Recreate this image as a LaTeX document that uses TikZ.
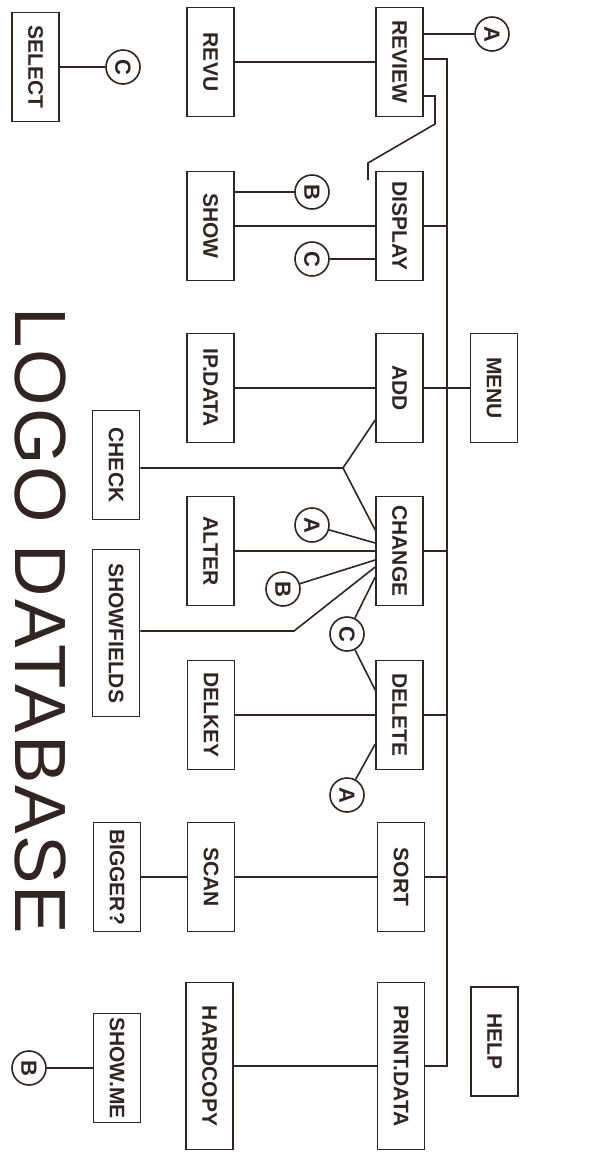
\documentclass[tikz,border=0pt]{standalone}
\usepackage{fontspec}
\setmainfont{Liberation Sans}
\definecolor{ink}{RGB}{50,36,36}
\newcommand{\sidetext}[1]{\rotatebox{-90}{#1}}

\begin{document}
\begin{tikzpicture}[x=1pt,y=-1pt,line width=1.6pt,color=ink,
    box/.style={draw, rectangle, fill=white, minimum width=47pt, minimum height=109pt, inner sep=0pt, font=\fontsize{21}{23}\selectfont\bfseries},
    tallbox/.style={box, minimum height=167pt},
    tag/.style={draw, circle, fill=white, minimum size=34pt, inner sep=0pt, font=\fontsize{22}{24}\selectfont\bfseries}]
    \fill[white] (0,0) rectangle (608,1152);
    \useasboundingbox (0,0) rectangle (608,1152);

    % Title
    \node[rotate=-90, inner sep=0pt, font=\fontsize{72.6}{80}\selectfont\addfontfeature{LetterSpace=2.5}] (title) at (40,621) {LOGO DATABASE};

    % Review / display
    \node[box] (select) at (35.5,67) {\sidetext{SELECT}};
    \node[tag] (selc) at (123,67) {\sidetext{C}};
    \node[box] (revu) at (210.5,62) {\sidetext{REVU}};
    \node[box] (review) at (399.5,62) {\sidetext{REVIEW}};
    \node[tag] (reva) at (492,34) {\sidetext{A}};
    \node[box] (show) at (210.5,226) {\sidetext{SHOW}};
    \node[box] (display) at (399.5,226) {\sidetext{DISPLAY}};
    \node[tag] (showb) at (312,192) {\sidetext{B}};
    \node[tag] (showc) at (312,259) {\sidetext{C}};

    % Add / change
    \node[box] (ipdata) at (210.5,388) {\sidetext{IP.DATA}};
    \node[box] (add) at (399.5,388) {\sidetext{ADD}};
    \node[box] (menu) at (494,388) {\sidetext{MENU}};
    \node[box] (check) at (116,465) {\sidetext{CHECK}};
    \node[box] (alter) at (210.5,551) {\sidetext{ALTER}};
    \node[box] (change) at (399.5,551) {\sidetext{CHANGE}};
    \node[tag] (chga) at (312,525) {\sidetext{A}};
    \node[tag] (chgb) at (283,589) {\sidetext{B}};
    \node[tag] (chgc) at (347,634) {\sidetext{C}};
    \node[tallbox] (showfields) at (116,633) {\sidetext{SHOWFIELDS}};

    % Delete / sort
    \node[box] (delkey) at (211,715) {\sidetext{DELKEY}};
    \node[box] (delete) at (399.5,715) {\sidetext{DELETE}};
    \node[tag] (dela) at (347,795) {\sidetext{A}};
    \node[box] (bigger) at (117,877) {\sidetext{BIGGER?}};
    \node[box] (scan) at (211,877) {\sidetext{SCAN}};
    \node[box] (sort) at (401,877) {\sidetext{SORT}};

    % Print
    \node[tallbox] (hardcopy) at (209.5,1066) {\sidetext{HARDCOPY}};
    \node[tallbox] (printdata) at (401,1066) {\sidetext{PRINT.DATA}};
    \node[box] (help) at (494.5,1041.5) {\sidetext{HELP}};
    \node[box] (showme) at (117,1068) {\sidetext{SHOW.ME}};
    \node[tag] (showmeb) at (29,1068) {\sidetext{B}};

    % Main line
    \coordinate (bustop) at (447,59);
    \coordinate (busend) at (447,1066);
    \draw (review.east |- bustop) -- (bustop) -- (busend) -- (printdata.east |- busend);

    \draw (select) -- (selc);
    \draw (revu) -- (review);
    \draw (review.east |- reva) -- (reva);
    \coordinate (jogend) at (368,180);
    \draw (review.east |- 0,96) -- (435,96) -- (435,124) -- (368,163) -- (jogend);
    \draw (show) -- (display);
    \draw (display.east) -- (display.east -| bustop);
    \draw (show.east |- showb) -- (showb);
    \draw (showc) -- (showc -| display.west);

    \draw (ipdata) -- (add);
    \draw (add) -- (menu);
    \coordinate (fork) at (343,468);
    \draw (check.east |- fork) -- (fork) -- (add.west |- 0,420);
    \draw (fork) -- (change.west |- 0,530);

    \draw (alter) -- (change);
    \draw (change.east) -- (change.east -| bustop);
    \draw (chga) -- (change.west |- 0,543);
    \draw (chgb) -- (change.west |- 0,560);
    \draw (showfields.east |- 0,631) -- (294,631) -- (change.west |- 0,567);
    \draw (change.west |- 0,577) -- (chgc) -- (delete.west |- 0,690);

    \draw (delkey) -- (delete);
    \draw (delete.east) -- (delete.east -| bustop);
    \draw (delete.west |- 0,744) -- (dela);

    \draw (bigger) -- (scan);
    \draw (scan) -- (sort);
    \draw (sort.east) -- (sort.east -| bustop);

    \draw (hardcopy) -- (printdata);
    \draw (showme) -- (showmeb);
\end{tikzpicture}
\end{document}
